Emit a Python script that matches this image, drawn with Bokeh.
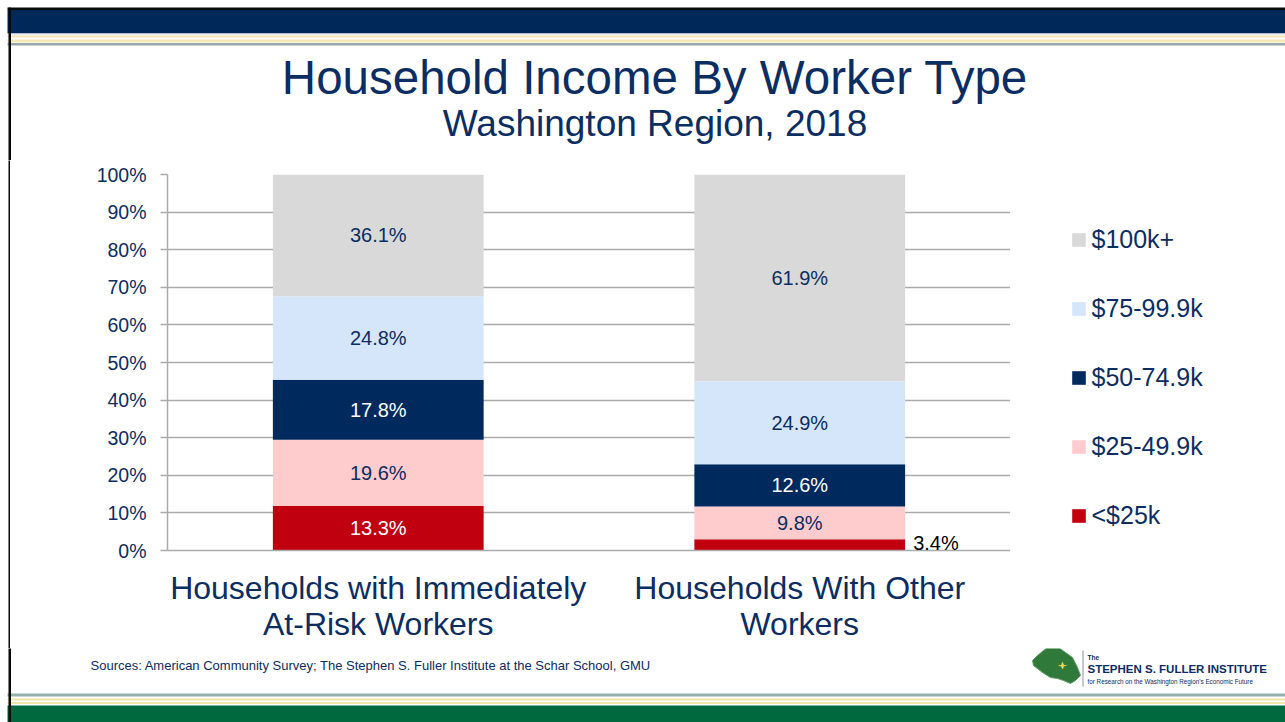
from bokeh.plotting import figure
from bokeh.layouts import column, row
from bokeh.models import (ColumnDataSource, FactorRange, Range1d, LabelSet,
                          Legend, LegendItem, PrintfTickFormatter, FixedTicker)
from bokeh.core.properties import value
from bokeh.transform import dodge
from bokeh.embed import file_html
from bokeh.resources import INLINE

# ---------------- data ----------------
categories = ["Households with Immediately\nAt-Risk Workers",
              "Households With Other\nWorkers"]
series_names = ["<$25k", "$25-49.9k", "$50-74.9k", "$75-99.9k", "$100k+"]
under_25k = [13.3, 3.4]
k25_to_49 = [19.6, 9.8]
k50_to_74 = [17.8, 12.6]
k75_to_99 = [24.8, 24.9]
k100_plus = [36.1, 61.9]
y_ticks = [0, 10, 20, 30, 40, 50, 60, 70, 80, 90, 100]
title_text = "Household Income By Worker Type"
subtitle_text = "Washington Region, 2018"
source_text = "Sources: American Community Survey; The Stephen S. Fuller Institute at the Schar School, GMU"
logo_small = "The"
logo_name = "STEPHEN S. FULLER INSTITUTE"
logo_tagline = "for Research on the Washington Region's Economic Future"

series_values = [under_25k, k25_to_49, k50_to_74, k75_to_99, k100_plus]

# ---------------- styles ----------------
NAVY_TXT = "#0B2D62"
fills = ["#C1000F", "#FFCCCE", "#00295E", "#D5E5FA", "#D9D9D9"]
label_colors = ["white", NAVY_TXT, "white", NAVY_TXT, NAVY_TXT]
GRID = "#ABABAB"
SANS = "Liberation Sans"
BLACK = "#0A0A0A"

# page geometry in page pixels
PAGE_W, PAGE_H = 1285, 722
HEAD_B = 160          # header: 0 .. 160
MAIN_B = 648          # chart row: 160 .. 648
STRIP_R = 10          # left strip: 0 .. 10
FL, FR, FT, FB = 167, 1010, 174, 550   # plot frame


def deco_fig(x0, x1, y0, y1):
    f = figure(width=int(x1 - x0), height=int(y1 - y0),
               x_range=Range1d(x0, x1), y_range=Range1d(y1, y0),
               x_axis_location=None, y_axis_location=None,
               output_backend="svg", toolbar_location=None,
               min_border=0, min_border_left=0, min_border_right=0,
               min_border_top=0, min_border_bottom=0, frame_align=False)
    f.outline_line_color = None
    f.grid.visible = False
    f.background_fill_color = "white"
    f.border_fill_color = "white"
    return f


def bands(f, specs):
    f.quad(left=[s[0] for s in specs], right=[s[1] for s in specs],
           top=[s[2] for s in specs], bottom=[s[3] for s in specs],
           fill_color=[s[4] for s in specs], line_color=None)


def txt(f, x, y, s, size, align="left", bold=False):
    f.text(x=[x], y=[y], text=[s], text_align=align, text_baseline="middle",
           text_font=value(SANS), text_font_size=value(size),
           text_font_style="bold" if bold else "normal", text_color=NAVY_TXT)


# ---------------- header ----------------
head = deco_fig(0, PAGE_W, 0, HEAD_B)
bands(head, [
    (7, 1290, 7, 9.5, BLACK),
    (7, 1290, 9.5, 33, "#002859"),
    (7, 1290, 33, 35, "#E9EDF1"),
    (7, 1290, 35, 37, "#F4E8B4"),
    (7, 1290, 39, 42, "#F4E8B4"),
    (7, 1290, 42.5, 45, "#9AA6B0"),
    (8, 10.5, 7, 200, BLACK),
])
txt(head, 654.5, 76.5, title_text, "47.5px", align="center")
txt(head, 654.5, 122.5, subtitle_text, "37px", align="center")

# ---------------- main chart ----------------
totals = [sum(v[i] for v in series_values) for i in range(len(categories))]
keys = [f"s{j}" for j in range(len(series_names))]
data = {"cat": categories}
for j, vals in enumerate(series_values):
    data[keys[j]] = [vals[i] / totals[i] * 100 for i in range(len(categories))]
src = ColumnDataSource(data)

p = figure(width=FR - STRIP_R, height=MAIN_B - HEAD_B,
           x_range=FactorRange(*categories, range_padding=0),
           y_range=Range1d(0, 100), output_backend="svg", toolbar_location=None,
           min_border_left=FL - STRIP_R, min_border_right=0,
           min_border_top=FT - HEAD_B, min_border_bottom=MAIN_B - FB,
           frame_align=False)
p.outline_line_color = None
p.background_fill_color = "white"
p.border_fill_color = "white"

renderers = p.vbar_stack(keys, x="cat", width=0.5, source=src,
                         fill_color=fills, line_color=None)

p.yaxis.ticker = FixedTicker(ticks=y_ticks)
p.yaxis.formatter = PrintfTickFormatter(format="%d%%")
p.yaxis.major_tick_out = 7
p.yaxis.major_tick_in = 0
p.yaxis.minor_tick_line_color = None
p.yaxis.axis_line_color = GRID
p.yaxis.axis_line_width = 1.5
p.yaxis.major_tick_line_color = GRID
p.yaxis.major_tick_line_width = 1.5
p.yaxis.major_label_text_font = SANS
p.yaxis.major_label_text_font_size = "19.5px"
p.yaxis.major_label_text_color = NAVY_TXT
p.yaxis.major_label_standoff = 14

p.xaxis.major_tick_line_color = None
p.xaxis.major_tick_out = 0
p.xaxis.major_tick_in = 0
p.xaxis.axis_line_color = GRID
p.xaxis.axis_line_width = 1.5
p.xaxis.major_label_text_font = SANS
p.xaxis.major_label_text_font_size = "32px"
p.xaxis.major_label_text_line_height = 1.02
p.xaxis.major_label_text_color = NAVY_TXT
p.xaxis.major_label_standoff = 19

p.ygrid.ticker = FixedTicker(ticks=y_ticks)
p.ygrid.grid_line_color = GRID
p.ygrid.grid_line_width = 1.5
p.xgrid.grid_line_color = None

# data labels
ins = dict(x=[], y=[], text=[], color=[])
outs = dict(x=[], y=[], text=[])
for i, c in enumerate(categories):
    bottom = 0.0
    for j, k in enumerate(keys):
        share = data[k][i]
        label = f"{series_values[j][i]:.1f}%"
        if share < 5:
            outs["x"].append(c); outs["y"].append(bottom); outs["text"].append(label)
        else:
            ins["x"].append(c); ins["y"].append(bottom + share / 2)
            ins["text"].append(label); ins["color"].append(label_colors[j])
        bottom += share

p.add_layout(LabelSet(x="x", y="y", text="text", source=ColumnDataSource(ins),
                      text_align="center", text_baseline="middle",
                      text_font=value(SANS), text_font_size=value("20px"),
                      text_color="color"))
p.add_layout(LabelSet(x=dodge("x", 0.25, range=p.x_range), y="y", text="text",
                      source=ColumnDataSource(outs), x_offset=8, y_offset=1,
                      text_align="left", text_baseline="alphabetic",
                      text_font=value(SANS), text_font_size=value("20px"),
                      text_color="black"))

# left strip with the slide's black edge
strip = deco_fig(0, STRIP_R, HEAD_B, MAIN_B)
bands(strip, [(8, 10.5, HEAD_B - 5, MAIN_B + 5, BLACK)])

# legend panel: hidden copies of the series supply the swatches
lf = deco_fig(FR, PAGE_W, HEAD_B, MAIN_B)
swatches = [lf.vbar(x="cat", top=keys[j], width=0.5, source=src,
                    fill_color=fills[j], line_color=None, visible=False)
            for j in range(len(series_names))]
items = [LegendItem(label=series_names[j], renderers=[swatches[j]])
         for j in reversed(range(len(series_names)))]
legend = Legend(items=items, location=(1069.5 - FR, MAIN_B - 529.5),
                orientation="vertical", padding=0, margin=0, spacing=40,
                glyph_width=17, glyph_height=17, label_standoff=5,
                label_text_font=SANS, label_text_font_size="25px",
                label_text_color=NAVY_TXT, border_line_color=None,
                background_fill_alpha=0, inactive_fill_alpha=0)
lf.add_layout(legend)

# ---------------- footer ----------------
foot = deco_fig(0, PAGE_W, MAIN_B, PAGE_H)
bands(foot, [
    (7, 1290, 693, 696, "#93B2AC"),
    (7, 1290, 698, 700, "#F2E5AC"),
    (7, 1290, 701.5, 703.5, "#F2E5AC"),
    (7, 1290, 705, 730, "#006A3E"),
    (8, 10.5, 600, 730, BLACK),
    (1082, 1083, 650, 686, "#8A8F99"),
])
txt(foot, 90, 665, source_text, "13px")
shape_px = [(1043, 650), (1050, 645), (1058, 647), (1065, 652), (1072, 657),
            (1077, 667), (1080, 675), (1075, 680), (1070, 683), (1063, 680),
            (1057, 678), (1050, 677), (1042, 672), (1033, 665), (1032, 660),
            (1037, 655)]
foot.patch(x=[a for a, _ in shape_px], y=[b for _, b in shape_px],
           fill_color="#2F7A3A", line_color="#5E9B66", line_width=1)
star_px = [(1062, 661), (1063.5, 664.5), (1067, 665), (1063.5, 666), (1062, 669),
           (1060.5, 666), (1057, 665), (1060.5, 664.5)]
foot.patch(x=[a for a, _ in star_px], y=[b for _, b in star_px],
           fill_color="#E8D44D", line_color=None)
txt(foot, 1087, 656.5, logo_small, "6.5px", bold=True)
txt(foot, 1087, 668, logo_name, "11.5px", bold=True)
txt(foot, 1087, 680.5, logo_tagline, "6.3px")

layout = column(head, row(strip, p, lf), foot)
open("out.html", "w").write(file_html(layout, INLINE))
